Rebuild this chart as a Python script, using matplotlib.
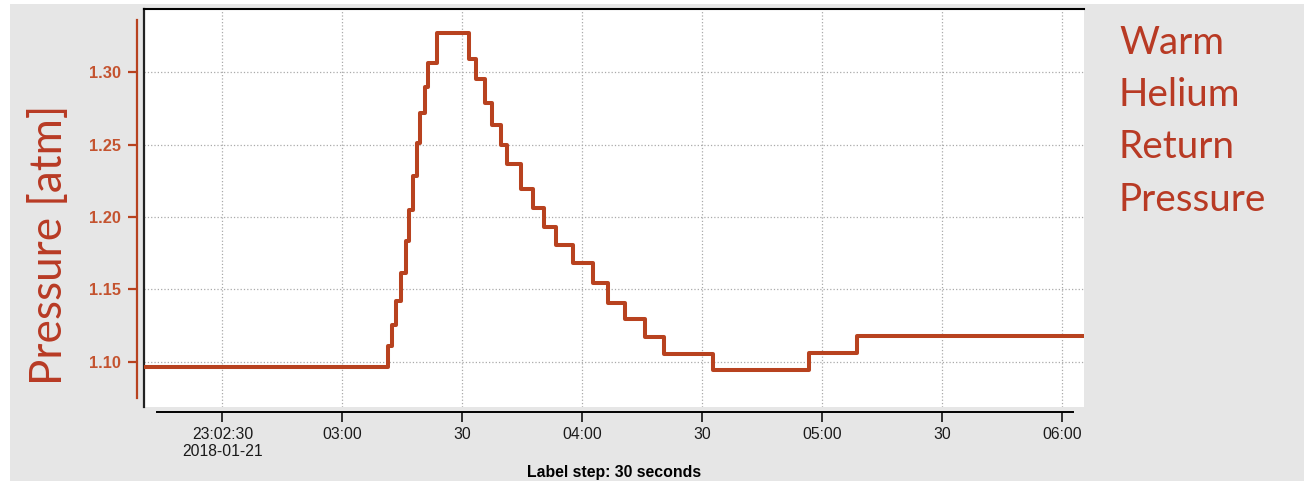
import matplotlib.pyplot as plt
from matplotlib.patches import Rectangle

# seconds after 23:02:30 (2018-01-21) where the reading changes, and the new value
tempos = [-19.6, 41.35, 42.35, 43.5, 44.7, 45.85, 46.7, 47.7, 48.6, 49.5, 50.6, 51.5,
          53.6, 61.75, 63.4, 65.55, 67.5, 69.55, 71.25, 74.7, 77.6, 80.4, 83.4, 87.75,
          92.6, 96.35, 100.7, 105.7, 110.5, 122.75, 146.75, 158.75, 214.9]
pressao = [1.0965, 1.1109, 1.1254, 1.1419, 1.1615, 1.1836, 1.2048, 1.2283, 1.2509,
           1.2717, 1.2900, 1.3066, 1.3270, 1.3090, 1.2950, 1.2786, 1.2638, 1.2496,
           1.2366, 1.2196, 1.2060, 1.1933, 1.1806, 1.1684, 1.1546, 1.1404, 1.1297,
           1.1173, 1.1053, 1.0943, 1.1058, 1.1178, 1.1178]

x_ticks = [0, 30, 60, 90, 120, 150, 180, 210]
x_labels = ['23:02:30\n2018-01-21', '03:00', '30', '04:00', '30', '05:00', '30', '06:00']
y_ticks = [1.10, 1.15, 1.20, 1.25, 1.30]
y_labels = ['1.10', '1.15', '1.20', '1.25', '1.30']

vermelho = '#b8421f'
texto_verm = '#b83a24'
W, H = 1304, 482

fig = plt.figure(figsize=(W / 100, H / 100), dpi=100)
fig.patch.set_facecolor('white')
fig.patches.append(Rectangle((10 / W, 1 / H), 1 - 10 / W, 477 / H, transform=fig.transFigure,
                             facecolor='#e6e6e6', edgecolor='none', zorder=-10))

ax = fig.add_axes([144 / W, 1 - 407 / H, (1084 - 144) / W, (407 - 9) / H])
ax.set_facecolor('white')

ax.step(tempos, pressao, where='post', color=vermelho, lw=2.9, zorder=3)

ax.set_xlim(-19.6, 215.4)
ax.set_ylim(1.0687, 1.3437)

# spines first: set_position resets the ticks
ax.spines['right'].set_visible(False)
ax.spines['top'].set_color('black')
ax.spines['top'].set_linewidth(1.5)
ax.spines['left'].set_position(('outward', 5))
ax.spines['left'].set_color(vermelho)
ax.spines['left'].set_linewidth(1.6)
ax.spines['left'].set_bounds(1.0749, 1.3361)
ax.spines['bottom'].set_position(('outward', 3.6))
ax.spines['bottom'].set_linewidth(1.4)
ax.spines['bottom'].set_bounds(-16.3, 212.7)

ax.set_xticks(x_ticks)
ax.set_xticklabels(x_labels, fontsize=11.3, family='Liberation Sans', color='#1a1a1a')
ax.set_yticks(y_ticks)
ax.set_yticklabels(y_labels, fontsize=11.8, family='Liberation Sans', fontweight='bold',
                   color='#c4532f')
ax.tick_params(axis='y', length=6.5, width=1.6, color=vermelho, pad=5)
ax.tick_params(axis='x', length=7, width=1.1, color='black', pad=3.5)
ax.grid(True, color='#aaaaaa', linestyle=':', lw=0.9)

# moldura preta do lado esquerdo
ax.plot([0, 0], [0, 1], transform=ax.transAxes, color='#222222', lw=1.6, clip_on=False)

fig.text(614 / W, 1 - 473 / H, 'Label step: 30 seconds', ha='center', va='center',
         fontsize=11.4, fontweight='bold', family='Liberation Sans')
fig.text(50 / W, 1 - 245 / H, 'Pressure [atm]', rotation=90, ha='center', va='center',
         fontsize=31.7, family='Lato', color=texto_verm)
fig.text(1119 / W, 1 - 25 / H, 'Warm\nHelium\nReturn\nPressure', ha='left', va='top',
         fontsize=27.8, family='Lato', color=texto_verm, linespacing=1.56)

plt.savefig('out.png', dpi=100)
